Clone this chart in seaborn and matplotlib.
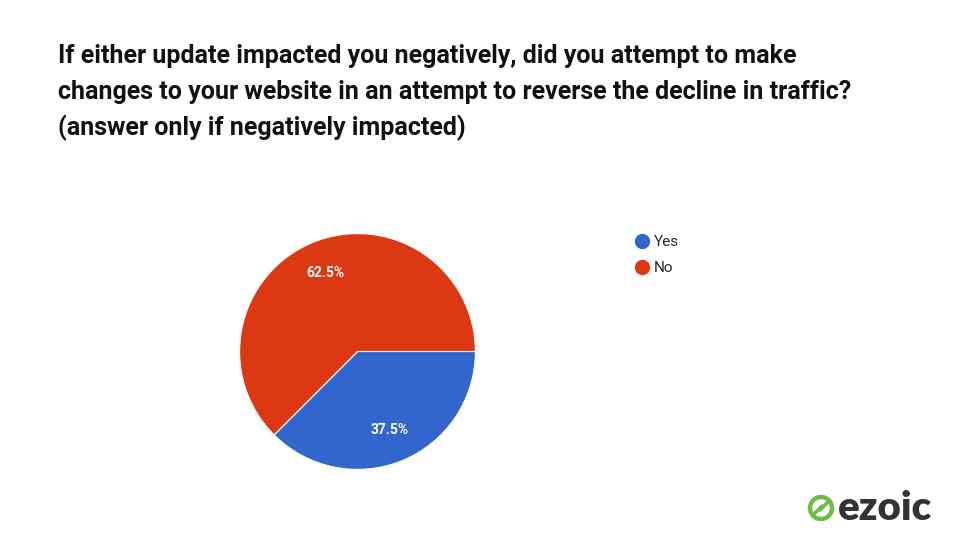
import matplotlib
matplotlib.use("Agg")
import matplotlib.pyplot as plt
import seaborn as sns
from matplotlib.patches import Circle
from matplotlib.lines import Line2D

labels = ["Yes", "No"]
values = [37.5, 62.5]
colors = ["#3366CC", "#DC3912"]
title_lines = [
    "If either update impacted you negatively, did you attempt to make",
    "changes to your website in an attempt to reverse the decline in traffic?",
    "(answer only if negatively impacted)",
]

sns.set_theme(style="white")
plt.rcParams["font.family"] = ["Roboto", "DejaVu Sans"]

fig = plt.figure(figsize=(9.6, 5.4), dpi=100)
fig.patch.set_facecolor("white")

# Title
for i, line in enumerate(title_lines):
    fig.text(58 / 960, 1 - (63 + 36 * i) / 540, line,
             family=["Roboto", "DejaVu Sans"],
             fontweight="bold", fontsize=18, color="#111111",
             ha="left", va="baseline")

# Pie
ax = fig.add_axes([239 / 960, 1 - 470 / 540, 237 / 960, 237 / 540])
wedges, texts, autotexts = ax.pie(
    values, colors=colors, startangle=0, counterclock=False,
    autopct="%1.1f%%", pctdistance=0.72,
    wedgeprops=dict(edgecolor="white", linewidth=0.8),
    textprops=dict(color="white", fontsize=10, fontweight="bold",
                   family=["Roboto", "DejaVu Sans"]),
)
ax.set_xlim(-1.005, 1.005)
ax.set_ylim(-1.005, 1.005)
ax.set_aspect("equal")
ax.axis("off")

# Legend
handles = [Line2D([0], [0], marker="o", linestyle="", markersize=10,
                  markerfacecolor=c, markeredgecolor=c) for c in colors]
fig.legend(handles, labels, loc="upper left",
           bbox_to_anchor=(633 / 960, 1 - 235 / 540), frameon=False,
           fontsize=11, handletextpad=0.15, labelspacing=0.8,
           handlelength=1.2, borderaxespad=0, borderpad=0)

# Logo
lax = fig.add_axes([0, 0, 1, 1], facecolor="none")
lax.set_xlim(0, 960)
lax.set_ylim(540, 0)
lax.axis("off")
lax.add_patch(Circle((821, 508), 11, facecolor="white", edgecolor="#6CBF44", linewidth=3.2))
lax.plot([814, 822], [514, 506], color="#6CBF44", lw=2.6, solid_capstyle="round")
lax.plot([820, 828], [510, 502], color="#6CBF44", lw=2.6, solid_capstyle="round")
lax.text(838, 509, "ezoic", family=["Lato", "DejaVu Sans"], fontweight="heavy",
         fontsize=29, color="#333333", ha="left", va="center")

fig.savefig("out.png", dpi=100, facecolor="white")
